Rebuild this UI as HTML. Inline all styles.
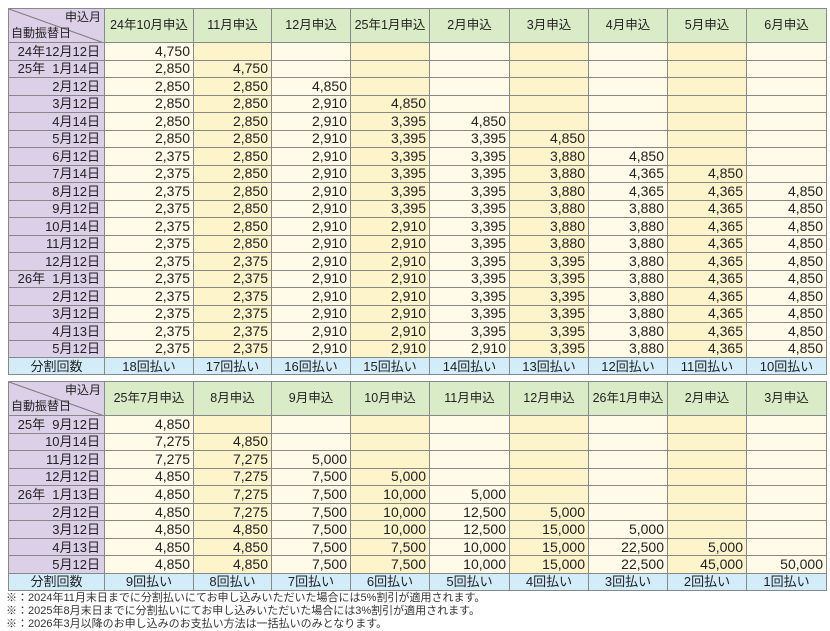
<!DOCTYPE html>
<html><head><meta charset="utf-8"><style>
body{margin:0;width:830px;height:630px;background:#fff;font-family:"Liberation Sans","Noto Sans CJK JP",sans-serif;color:#222;position:relative;overflow:hidden}
table{position:absolute;left:8px;border-collapse:collapse;table-layout:fixed;width:818px;border:1px solid #777}
tr{height:17.5px}
td{border:1px solid #888;padding:0 3px 0 0;font-size:14px;text-align:right;line-height:15px;white-space:nowrap;overflow:hidden}
td:nth-child(2n){background:#fffbe8}
td:nth-child(2n+1){background:#fdf4cc}
td.l{background:#dcd0e9;font-size:13px;padding-right:4px}
tr.h{height:34px}
tr.h td{background:#d9ebc7;text-align:center;font-size:12.5px;padding:0}
tr.h td.c{background:#dcd0e9 url("data:image/svg+xml,%3Csvg xmlns='http://www.w3.org/2000/svg' width='96' height='34'%3E%3Cline x1='0' y1='0' x2='96' y2='34' stroke='%23777' stroke-width='1'/%3E%3C/svg%3E") no-repeat;position:relative;text-align:left}
.c span{position:absolute;font-size:12px}
tr.f{height:17px}
tr.f td{background:#d3ecfa;text-align:center;font-size:13px;padding:0}
tr.f td.l{background:#d3ecfa}
.n{position:absolute;left:6px;font-size:11px;color:#333;line-height:13px}
</style></head><body>
<table style="top:8px;height:367px">
<colgroup><col style="width:96px"><col style="width:89px"><col style="width:78px"><col style="width:79px"><col style="width:79px"><col style="width:80px"><col style="width:79px"><col style="width:79px"><col style="width:79px"><col style="width:80px"></colgroup>
<tr class="h"><td class="c"><span style="right:3px;top:1px">申込月</span><span style="left:2px;bottom:1px">自動振替日</span></td><td>24年10月申込</td><td>11月申込</td><td>12月申込</td><td>25年1月申込</td><td>2月申込</td><td>3月申込</td><td>4月申込</td><td>5月申込</td><td>6月申込</td></tr>
<tr><td class="l">24年12月12日</td><td>4,750</td><td></td><td></td><td></td><td></td><td></td><td></td><td></td><td></td></tr>
<tr><td class="l">25年&nbsp;&nbsp;1月14日</td><td>2,850</td><td>4,750</td><td></td><td></td><td></td><td></td><td></td><td></td><td></td></tr>
<tr><td class="l">2月12日</td><td>2,850</td><td>2,850</td><td>4,850</td><td></td><td></td><td></td><td></td><td></td><td></td></tr>
<tr><td class="l">3月12日</td><td>2,850</td><td>2,850</td><td>2,910</td><td>4,850</td><td></td><td></td><td></td><td></td><td></td></tr>
<tr><td class="l">4月14日</td><td>2,850</td><td>2,850</td><td>2,910</td><td>3,395</td><td>4,850</td><td></td><td></td><td></td><td></td></tr>
<tr><td class="l">5月12日</td><td>2,850</td><td>2,850</td><td>2,910</td><td>3,395</td><td>3,395</td><td>4,850</td><td></td><td></td><td></td></tr>
<tr><td class="l">6月12日</td><td>2,375</td><td>2,850</td><td>2,910</td><td>3,395</td><td>3,395</td><td>3,880</td><td>4,850</td><td></td><td></td></tr>
<tr><td class="l">7月14日</td><td>2,375</td><td>2,850</td><td>2,910</td><td>3,395</td><td>3,395</td><td>3,880</td><td>4,365</td><td>4,850</td><td></td></tr>
<tr><td class="l">8月12日</td><td>2,375</td><td>2,850</td><td>2,910</td><td>3,395</td><td>3,395</td><td>3,880</td><td>4,365</td><td>4,365</td><td>4,850</td></tr>
<tr><td class="l">9月12日</td><td>2,375</td><td>2,850</td><td>2,910</td><td>3,395</td><td>3,395</td><td>3,880</td><td>3,880</td><td>4,365</td><td>4,850</td></tr>
<tr><td class="l">10月14日</td><td>2,375</td><td>2,850</td><td>2,910</td><td>2,910</td><td>3,395</td><td>3,880</td><td>3,880</td><td>4,365</td><td>4,850</td></tr>
<tr><td class="l">11月12日</td><td>2,375</td><td>2,850</td><td>2,910</td><td>2,910</td><td>3,395</td><td>3,880</td><td>3,880</td><td>4,365</td><td>4,850</td></tr>
<tr><td class="l">12月12日</td><td>2,375</td><td>2,375</td><td>2,910</td><td>2,910</td><td>3,395</td><td>3,395</td><td>3,880</td><td>4,365</td><td>4,850</td></tr>
<tr><td class="l">26年&nbsp;&nbsp;1月13日</td><td>2,375</td><td>2,375</td><td>2,910</td><td>2,910</td><td>3,395</td><td>3,395</td><td>3,880</td><td>4,365</td><td>4,850</td></tr>
<tr><td class="l">2月12日</td><td>2,375</td><td>2,375</td><td>2,910</td><td>2,910</td><td>3,395</td><td>3,395</td><td>3,880</td><td>4,365</td><td>4,850</td></tr>
<tr><td class="l">3月12日</td><td>2,375</td><td>2,375</td><td>2,910</td><td>2,910</td><td>3,395</td><td>3,395</td><td>3,880</td><td>4,365</td><td>4,850</td></tr>
<tr><td class="l">4月13日</td><td>2,375</td><td>2,375</td><td>2,910</td><td>2,910</td><td>3,395</td><td>3,395</td><td>3,880</td><td>4,365</td><td>4,850</td></tr>
<tr><td class="l">5月12日</td><td>2,375</td><td>2,375</td><td>2,910</td><td>2,910</td><td>2,910</td><td>3,395</td><td>3,880</td><td>4,365</td><td>4,850</td></tr>
<tr class="f"><td class="l">分割回数</td><td>18回払い</td><td>17回払い</td><td>16回払い</td><td>15回払い</td><td>14回払い</td><td>13回払い</td><td>12回払い</td><td>11回払い</td><td>10回払い</td></tr>
</table>
<table style="top:381px;height:210px">
<colgroup><col style="width:96px"><col style="width:89px"><col style="width:78px"><col style="width:79px"><col style="width:79px"><col style="width:80px"><col style="width:79px"><col style="width:79px"><col style="width:79px"><col style="width:80px"></colgroup>
<tr class="h"><td class="c"><span style="right:3px;top:1px">申込月</span><span style="left:2px;bottom:1px">自動振替日</span></td><td>25年7月申込</td><td>8月申込</td><td>9月申込</td><td>10月申込</td><td>11月申込</td><td>12月申込</td><td>26年1月申込</td><td>2月申込</td><td>3月申込</td></tr>
<tr><td class="l">25年&nbsp;&nbsp;9月12日</td><td>4,850</td><td></td><td></td><td></td><td></td><td></td><td></td><td></td><td></td></tr>
<tr><td class="l">10月14日</td><td>7,275</td><td>4,850</td><td></td><td></td><td></td><td></td><td></td><td></td><td></td></tr>
<tr><td class="l">11月12日</td><td>7,275</td><td>7,275</td><td>5,000</td><td></td><td></td><td></td><td></td><td></td><td></td></tr>
<tr><td class="l">12月12日</td><td>4,850</td><td>7,275</td><td>7,500</td><td>5,000</td><td></td><td></td><td></td><td></td><td></td></tr>
<tr><td class="l">26年&nbsp;&nbsp;1月13日</td><td>4,850</td><td>7,275</td><td>7,500</td><td>10,000</td><td>5,000</td><td></td><td></td><td></td><td></td></tr>
<tr><td class="l">2月12日</td><td>4,850</td><td>7,275</td><td>7,500</td><td>10,000</td><td>12,500</td><td>5,000</td><td></td><td></td><td></td></tr>
<tr><td class="l">3月12日</td><td>4,850</td><td>4,850</td><td>7,500</td><td>10,000</td><td>12,500</td><td>15,000</td><td>5,000</td><td></td><td></td></tr>
<tr><td class="l">4月13日</td><td>4,850</td><td>4,850</td><td>7,500</td><td>7,500</td><td>10,000</td><td>15,000</td><td>22,500</td><td>5,000</td><td></td></tr>
<tr><td class="l">5月12日</td><td>4,850</td><td>4,850</td><td>7,500</td><td>7,500</td><td>10,000</td><td>15,000</td><td>22,500</td><td>45,000</td><td>50,000</td></tr>
<tr class="f"><td class="l">分割回数</td><td>9回払い</td><td>8回払い</td><td>7回払い</td><td>6回払い</td><td>5回払い</td><td>4回払い</td><td>3回払い</td><td>2回払い</td><td>1回払い</td></tr>
</table>
<div class="n" style="top:592px">※：2024年11月末日までに分割払いにてお申し込みいただいた場合には5%割引が適用されます。</div>
<div class="n" style="top:605px">※：2025年8月末日までに分割払いにてお申し込みいただいた場合には3%割引が適用されます。</div>
<div class="n" style="top:618px">※：2026年3月以降のお申し込みのお支払い方法は一括払いのみとなります。</div>
</body></html>
